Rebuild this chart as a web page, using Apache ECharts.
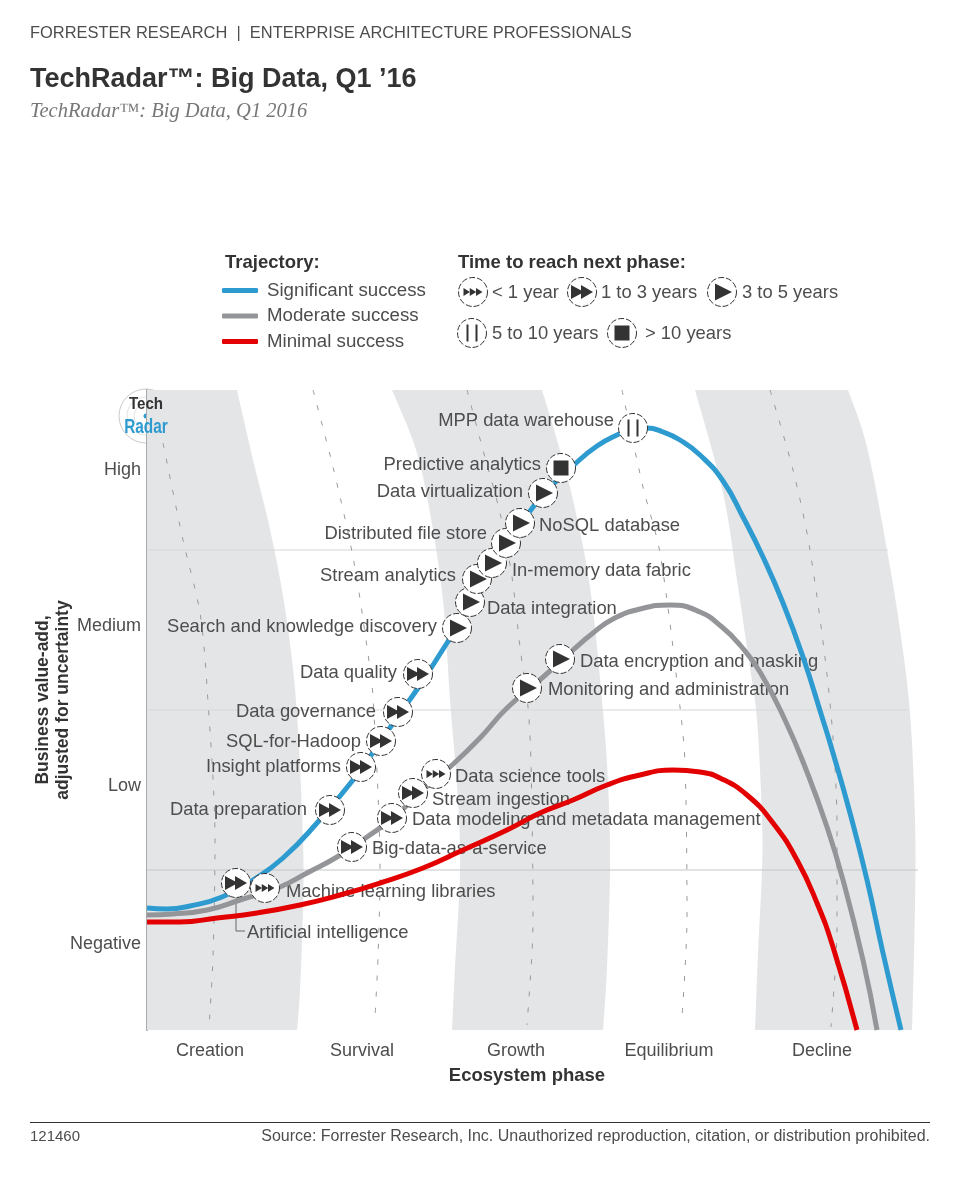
<!DOCTYPE html>
<html>
<head>
<meta charset="utf-8">
<title>TechRadar: Big Data, Q1 '16</title>
<script src="https://cdn.jsdelivr.net/npm/echarts@6/dist/echarts.min.js"></script>
<style>
html, body { margin: 0; padding: 0; background: #fff; }
#main { width: 960px; height: 1181px; }
</style>
</head>
<body>
<div id="main"></div>
<script>
// axis units: x 0-771 along the ecosystem phases, y 0-640 of value-add (160 per level)
var phaseNames = ['Creation', 'Survival', 'Growth', 'Equilibrium', 'Decline'];
var phasePos = [63, 215, 369, 522, 675];
var levelNames = ['Negative', 'Low', 'Medium', 'High'];
var levelPos = [86, 244, 404, 560];

var blueCurve = [[0,122],[20,121],[43,124],[75,133],[106,150],[136,172],[170,207],[206,250],[234,289],[251,314],[271,342],[300,387],[311,404],[324,428],[345,467],[373,505],[396,535],[428,566],[450,584],[470,595],[486,601],[500,602],[516,598],[533,590],[553,575],[576,549],[596,513],[616,473],[636,427],[656,373],[675,313],[686,277],[703,217],[720,150],[736,77],[754,0]];
var greyCurve = [[0,115],[26,116],[60,120],[93,130],[133,143],[160,157],[190,173],[220,193],[246,212],[276,240],[303,263],[333,292],[360,322],[395,352],[426,380],[446,397],[466,411],[493,421],[523,425],[553,418],[575,403],[593,385],[613,358],[638,310],[660,258],[680,203],[696,150],[716,70],[730,0]];
var redCurve = [[0,108],[33,108],[70,112],[110,117],[153,125],[193,135],[233,147],[276,162],[316,180],[360,200],[393,217],[426,230],[460,245],[493,255],[526,260],[553,258],[573,252],[600,235],[626,207],[650,170],[670,127],[686,83],[710,0]];

var techNames = ['Artificial intelligence', 'Machine learning libraries', 'Big-data-as-a-service', 'Data preparation', 'Data modeling and metadata management', 'Stream ingestion', 'Data science tools', 'Insight platforms', 'SQL-for-Hadoop', 'Data governance', 'Monitoring and administration', 'Data encryption and masking', 'Data quality', 'Search and knowledge discovery', 'Data integration', 'Stream analytics', 'In-memory data fabric', 'Distributed file store', 'NoSQL database', 'Data virtualization', 'Predictive analytics', 'MPP data warehouse'];
var techX = [89, 118, 205, 183, 245, 266, 289, 214, 234, 251, 380, 413, 271, 310, 323, 330, 345, 359, 373, 396, 414, 486];
var techY = [147, 142, 183, 220, 212, 237, 256, 263, 289, 318, 342, 371, 356, 402, 428, 451, 467, 487, 507, 537, 562, 602];
var techTime = ['1to3', 'lt1', '1to3', '1to3', '1to3', '1to3', 'lt1', '1to3', '1to3', '1to3', '3to5', '3to5', '1to3', '3to5', '3to5', '3to5', '3to5', '3to5', '3to5', '3to5', 'gt10', '5to10'];
// label anchor relative to the marker, in pixels, same order as techNames
var labelOffset = [[11,50],[21,4],[20,2],[-23,0],[20,2],[19,7],[19,3],[-20,0],[-20,1],[-22,0],[21,2],[20,3],[-21,-1],[-20,-1],[17,7],[-21,-3],[20,8],[-19,-9],[19,3],[-20,-1],[-20,-3],[-19,-7]];
var aiLeader = [[89,133],[89,99],[98,99]];

var bandEdges = [
    [[[0,640],[0,0]], [[90,640],[106,570],[122,505],[135,440],[145,370],[151,300],[156,190],[156,123],[153,40],[150,0]]],
    [[[245,640],[270,577],[286,500],[297,420],[303,330],[311,230],[313,157],[308,63],[305,0]], [[395,640],[410,590],[426,530],[443,443],[455,330],[461,247],[463,163],[460,63],[456,0]]],
    [[[548,640],[576,537],[590,450],[601,375],[610,310],[615,210],[615,160],[611,77],[608,0]], [[701,640],[720,583],[740,480],[753,400],[763,317],[768,210],[768,123],[765,0]]]
];
var phaseCenters = [
    [[16,587],[36,490],[53,417],[60,343],[68,190],[66,73],[62,3]],
    [[166,640],[186,563],[206,473],[220,383],[226,333],[233,157],[231,73],[228,13]],
    [[320,640],[336,580],[353,517],[365,453],[373,383],[381,323],[384,267],[386,113],[385,77],[380,5]],
    [[475,640],[496,543],[513,477],[533,323],[538,267],[540,113],[535,13]],
    [[623,640],[646,560],[663,480],[683,327],[690,203],[690,103],[684,3]]
];
var levelLines = [[[0,160],[771,160]], [[0,320],[761,320]], [[0,480],[741,480]]];

var textFont = '"Liberation Sans", Arial, sans-serif';
var textColor = '#4d4d4d';
var darkIcon = '#333';

function tri(x, w, h) {
    return {type: 'polygon', shape: {points: [[x, -h / 2], [x + w, 0], [x, h / 2]]}, style: {fill: darkIcon}};
}

// one round "time to next phase" marker, centred on its group
function iconParts(kind) {
    var parts = [{
        type: 'circle',
        shape: {cx: 0, cy: 0, r: 14.5},
        style: {fill: '#fff', stroke: '#333', lineWidth: 1, lineDash: [6, 2]}
    }];
    if (kind == 'lt1') {
        parts.push(tri(-9.5, 6.5, 8), tri(-3.25, 6.5, 8), tri(3, 6.5, 8));
    } else if (kind == '1to3') {
        parts.push(tri(-11, 13, 14), tri(-1, 12, 14));
    } else if (kind == '3to5') {
        parts.push(tri(-7, 17, 17));
    } else if (kind == '5to10') {
        parts.push({type: 'rect', shape: {x: -5.5, y: -8.5, width: 2, height: 17}, style: {fill: darkIcon}});
        parts.push({type: 'rect', shape: {x: 3.5, y: -8.5, width: 2, height: 17}, style: {fill: darkIcon}});
    } else {
        parts.push({type: 'rect', shape: {x: -7.5, y: -7.5, width: 15, height: 15}, style: {fill: darkIcon}});
    }
    return parts;
}

function pageText(str, x, y, size, opt) {
    opt = opt || {};
    return {
        type: 'text', x: x, y: y, z: 20, scaleX: opt.scaleX || 1,
        style: {
            text: str, fill: opt.fill || textColor,
            font: (opt.weight || 'normal') + ' ' + size + 'px ' + (opt.family || textFont),
            textAlign: opt.align || 'left', textVerticalAlign: 'middle',
            align: opt.align || 'left', verticalAlign: 'middle'
        }
    };
}

function legendIcon(kind, x, y) {
    return {type: 'group', x: x, y: y, z: 20, children: iconParts(kind)};
}

function curveSeries(name, data, color) {
    return {
        name: name, type: 'line', data: data, smooth: 0.5, symbol: 'none', z: 6,
        itemStyle: {color: color},
        lineStyle: {color: color, width: 5, cap: 'butt'}
    };
}

// rounds a band edge in pixel space so the polygon has no visible corners along it
function roundEdge(pts) {
    var out = [];
    for (var i = 0; i < pts.length - 1; i++) {
        var p0 = pts[Math.max(i - 1, 0)], p1 = pts[i], p2 = pts[i + 1], p3 = pts[Math.min(i + 2, pts.length - 1)];
        for (var s = 0; s < 8; s++) {
            var t = s / 8, t2 = t * t, t3 = t2 * t;
            out.push([0, 1].map(function (k) {
                return 0.5 * (2 * p1[k] + (p2[k] - p0[k]) * t + (2 * p0[k] - 5 * p1[k] + 4 * p2[k] - p3[k]) * t2 + (3 * p1[k] - p0[k] - 3 * p2[k] + p3[k]) * t3);
            }));
        }
    }
    out.push(pts[pts.length - 1]);
    return out;
}

var series = [];

bandEdges.forEach(function (edges, b) {
    series.push({
        name: 'band' + b, type: 'custom', z: 1, silent: true,
        data: edges[0].concat(edges[1]),
        renderItem: function (params, api) {
            if (params.dataIndex != 0) return null;
            var left = edges[0].map(function (p) { return api.coord(p); });
            var right = edges[1].map(function (p) { return api.coord(p); });
            return {
                type: 'polygon',
                shape: {points: roundEdge(left).concat(roundEdge(right).reverse())},
                style: {fill: '#e4e5e7'}
            };
        }
    });
});

levelLines.forEach(function (pts, i) {
    series.push({
        name: 'level' + i, type: 'line', data: pts, symbol: 'none', z: 2, silent: true,
        lineStyle: {color: i == 0 ? '#c4c5c7' : '#d6d7d9', width: 1}
    });
});

phaseCenters.forEach(function (pts, i) {
    series.push({
        name: 'center' + i, type: 'line', data: pts, smooth: 0.3, symbol: 'none', z: 3, silent: true,
        lineStyle: {color: '#999a9d', width: 1, type: [5, 11]}
    });
});

// technology names sit under the curves, the marker discs above them
series.push({
    name: 'labels', type: 'custom', z: 4, silent: true,
    data: techNames.map(function (n, i) { return [techX[i], techY[i]]; }),
    renderItem: function (params, api) {
        var i = params.dataIndex;
        var pt = api.coord([api.value(0), api.value(1)]);
        var off = labelOffset[i];
        return {
            type: 'text', x: pt[0] + off[0], y: pt[1] + off[1],
            style: {
                text: techNames[i], fill: textColor, font: 'normal 18.4px ' + textFont,
                textAlign: off[0] < 0 ? 'right' : 'left', textVerticalAlign: 'middle',
                align: off[0] < 0 ? 'right' : 'left', verticalAlign: 'middle'
            }
        };
    }
});

series.push({
    name: 'leader', type: 'line', data: aiLeader, symbol: 'none', z: 5, silent: true,
    lineStyle: {color: '#666', width: 1}
});

series.push(curveSeries('Significant success', blueCurve, '#2e9bd0'));
series.push(curveSeries('Moderate success', greyCurve, '#939598'));
series.push(curveSeries('Minimal success', redCurve, '#e30000'));

series.push({
    name: 'markers', type: 'custom', z: 8, silent: true,
    data: techNames.map(function (n, i) { return [techX[i], techY[i]]; }),
    renderItem: function (params, api) {
        var pt = api.coord([api.value(0), api.value(1)]);
        return {type: 'group', x: pt[0], y: pt[1], children: iconParts(techTime[params.dataIndex])};
    }
});

var option = {
    animation: false,
    title: {
        text: 'TechRadar™: Big Data, Q1 ’16',
        subtext: 'TechRadar™: Big Data, Q1 2016',
        left: 30, top: 66, padding: 0, itemGap: 9,
        textStyle: {fontFamily: textFont, fontSize: 27, fontWeight: 'bold', color: '#333'},
        subtextStyle: {fontFamily: '"Liberation Serif", serif', fontStyle: 'italic', fontSize: 20.5, color: '#777'}
    },
    legend: {
        data: ['Significant success', 'Moderate success', 'Minimal success'],
        orient: 'vertical', left: 222, top: 281, padding: 0, itemGap: 6.5,
        itemWidth: 36, itemHeight: 5, icon: 'roundRect', selectedMode: false,
        textStyle: {fontFamily: textFont, fontSize: 18.7, color: textColor, padding: [0, 0, 0, 4]}
    },
    grid: {left: 147, top: 390, width: 771, height: 640},
    xAxis: {
        type: 'value', min: 0, max: 771,
        name: 'Ecosystem phase', nameLocation: 'middle', nameGap: 36,
        nameTextStyle: {fontFamily: textFont, fontSize: 18.5, fontWeight: 'bold', color: '#333', padding: [0, 11, 0, 0]},
        axisLine: {show: false}, axisTick: {show: false}, splitLine: {show: false},
        axisLabel: {
            customValues: phasePos, margin: 12, fontFamily: textFont, fontSize: 18, color: textColor,
            formatter: function (v) { return phaseNames[phasePos.indexOf(v)]; }
        }
    },
    yAxis: {
        type: 'value', min: 0, max: 640,
        name: 'Business value-add,\nadjusted for uncertainty', nameLocation: 'middle', nameGap: 74, nameRotate: 90, nameMoveOverlap: false,
        nameTextStyle: {fontFamily: textFont, fontSize: 17.5, fontWeight: 'bold', color: '#333', lineHeight: 20, padding: [0, 0, 0, 20]},
        axisLine: {show: true, lineStyle: {color: '#a9aaac', width: 2}}, axisTick: {show: false}, splitLine: {show: false},
        axisLabel: {
            customValues: levelPos, margin: 6, fontFamily: textFont, fontSize: 18, color: textColor,
            formatter: function (v) { return levelNames[levelPos.indexOf(v)]; }
        }
    },
    graphic: [
        pageText('FORRESTER RESEARCH  |  ENTERPRISE ARCHITECTURE PROFESSIONALS', 30, 33, 16.45),
        pageText('Trajectory:', 225, 263, 18.5, {weight: 'bold', fill: '#333'}),
        pageText('Time to reach next phase:', 458, 263, 18.5, {weight: 'bold', fill: '#333'}),
        legendIcon('lt1', 473, 292), pageText('< 1 year', 492, 293, 18.4),
        legendIcon('1to3', 582, 292), pageText('1 to 3 years', 601, 293, 18.4),
        legendIcon('3to5', 722, 292), pageText('3 to 5 years', 742, 293, 18.4),
        legendIcon('5to10', 472, 333), pageText('5 to 10 years', 492, 334, 18.4),
        legendIcon('gt10', 622, 333), pageText('> 10 years', 645, 334, 18.4),
        // TechRadar badge
        {
            type: 'group', x: 146, y: 416, z: 20,
            children: [
                {type: 'circle', shape: {cx: 0, cy: 0, r: 27}, style: {fill: '#fff', stroke: '#c9c9c9', lineWidth: 1}},
                {type: 'circle', shape: {cx: 0, cy: 0, r: 19}, style: {fill: 'none', stroke: '#e2e2e2', lineWidth: 1}},
                {type: 'circle', shape: {cx: 0, cy: 0, r: 12}, style: {fill: 'none', stroke: '#e2e2e2', lineWidth: 1}},
                {type: 'circle', shape: {cx: 0, cy: 0, r: 2.5}, style: {fill: '#2e9bd0'}}
            ]
        },
        pageText('Tech', 146, 404, 17, {weight: 'bold', fill: '#333', align: 'center', scaleX: 0.89}),
        pageText('Radar', 146, 427, 20, {weight: 'bold', fill: '#2e9bd0', align: 'center', scaleX: 0.77}),
        {type: 'line', z: 20, shape: {x1: 30, y1: 1122.5, x2: 930, y2: 1122.5}, style: {stroke: '#333', lineWidth: 1}},
        pageText('121460', 30, 1137, 15),
        pageText('Source: Forrester Research, Inc. Unauthorized reproduction, citation, or distribution prohibited.', 930, 1137, 16, {align: 'right'})
    ],
    series: series
};

var chart = echarts.init(document.getElementById('main'));
chart.setOption(option);
</script>
</body>
</html>
